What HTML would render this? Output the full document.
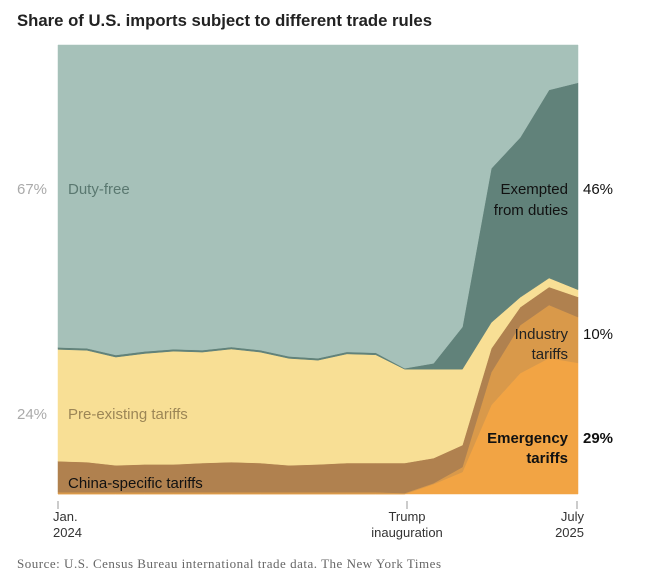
<!DOCTYPE html>
<html><head><meta charset="utf-8"><style>
body{margin:0;background:#fff;width:650px;height:578px;overflow:hidden;font-family:"Liberation Sans",sans-serif}
</style></head><body>
<svg id="chart" width="650" height="578" xmlns="http://www.w3.org/2000/svg" font-family="Liberation Sans, sans-serif">
<text x="17" y="26" font-size="17" font-weight="bold" fill="#222" textLength="415" lengthAdjust="spacingAndGlyphs">Share of U.S. imports subject to different trade rules</text>
<g id="areas"></g>
<g fill="#333" font-size="13">
<line x1="58" y1="501" x2="58" y2="509" stroke="#ccc" stroke-width="2"/>
<line x1="407" y1="501" x2="407" y2="509" stroke="#ccc" stroke-width="2"/>
<line x1="577" y1="501" x2="577" y2="509" stroke="#ccc" stroke-width="2"/>
<text x="53" y="521">Jan.</text>
<text x="53" y="537">2024</text>
<text x="407" y="521" text-anchor="middle">Trump</text>
<text x="407" y="537" text-anchor="middle">inauguration</text>
<text x="584" y="521" text-anchor="end">July</text>
<text x="584" y="537" text-anchor="end">2025</text>
</g>
<g font-size="15">
<text x="17" y="194" fill="#aaa">67%</text>
<text x="68" y="194" fill="#5a7870">Duty-free</text>
<text x="17" y="419" fill="#aaa">24%</text>
<text x="68" y="419" fill="#9c8656">Pre-existing tariffs</text>
<text x="68" y="488" fill="#111">China-specific tariffs</text>
<text x="568" y="194" text-anchor="end" fill="#111">Exempted</text>
<text x="568" y="215" text-anchor="end" fill="#111">from duties</text>
<text x="583" y="194" fill="#111">46%</text>
<text x="568" y="339" text-anchor="end" fill="#222">Industry</text>
<text x="568" y="359" text-anchor="end" fill="#222">tariffs</text>
<text x="583" y="339" fill="#111">10%</text>
<text x="568" y="443" text-anchor="end" font-weight="bold" fill="#111">Emergency</text>
<text x="568" y="463" text-anchor="end" font-weight="bold" fill="#111">tariffs</text>
<text x="583" y="443" font-weight="bold" fill="#111">29%</text>
</g>
<text x="17" y="568" font-size="13" fill="#666" font-family="Liberation Serif, serif" textLength="424" lengthAdjust="spacing">Source:  U.S. Census Bureau international trade data.  The New York Times</text>
</svg>
<script>
const months = ["2024-01","2024-02","2024-03","2024-04","2024-05","2024-06","2024-07","2024-08","2024-09","2024-10","2024-11","2024-12","2025-01","2025-02","2025-03","2025-04","2025-05","2025-06","2025-07"];
const emergency = [0,0,0,0,0,0,0,0,0,0,0,0,0,2.2,4.9,19.8,26.9,30.3,29.2];
const industry = [0.4,0.4,0.4,0.4,0.4,0.4,0.4,0.4,0.4,0.4,0.4,0.4,0.2,0.2,1.1,7.3,10.7,11.8,10.2];
const china = [6.9,6.7,6.0,6.2,6.2,6.5,6.7,6.5,6.0,6.2,6.5,6.5,6.7,5.6,4.9,5.3,4.0,4.0,4.5];
const preexisting = [24.9,24.9,24.1,24.7,25.2,24.7,25.2,24.7,23.8,23.2,24.3,24.1,20.9,19.8,16.9,5.8,2.2,2.0,1.6];
const exempted = [0.45,0.45,0.45,0.45,0.45,0.45,0.45,0.45,0.45,0.45,0.45,0.45,0.2,1.3,9.4,34.3,35.6,41.9,46.1];

const X0=58,X1=578,Y0=494,Y1=45;
const xs=i=>X0+(X1-X0)*i/(months.length-1);
const ys=v=>Y0-(Y0-Y1)*v/100;
const layers=[
 {name:'emergency-area',vals:emergency,color:'#f2a444'},
 {name:'industry-area',vals:industry,color:'#d9994a'},
 {name:'china-area',vals:china,color:'#b0814f'},
 {name:'pre-existing-area',vals:preexisting,color:'#f8df95'},
 {name:'exempted-area',vals:exempted,color:'#61827a'},
 {name:'duty-free-area',vals:months.map((m,i)=>100-emergency[i]-industry[i]-china[i]-preexisting[i]-exempted[i]),color:'#a6c1b9'}
];
const g=document.getElementById('areas');
let base=months.map(()=>0);
layers.forEach(L=>{
  const top=base.map((b,i)=>b+L.vals[i]);
  let d='M'+months.map((m,i)=>xs(i).toFixed(1)+','+ys(top[i]).toFixed(1)).join('L');
  for(let i=months.length-1;i>=0;i--) d+='L'+xs(i).toFixed(1)+','+ys(base[i]).toFixed(1);
  d+='Z';
  const p=document.createElementNS('http://www.w3.org/2000/svg','path');
  p.setAttribute('d',d);p.setAttribute('fill',L.color);
  p.setAttribute('stroke',L.color);p.setAttribute('stroke-width','0.5');
  
  
  g.appendChild(p);
  base=top;
});
</script>
</body></html>
